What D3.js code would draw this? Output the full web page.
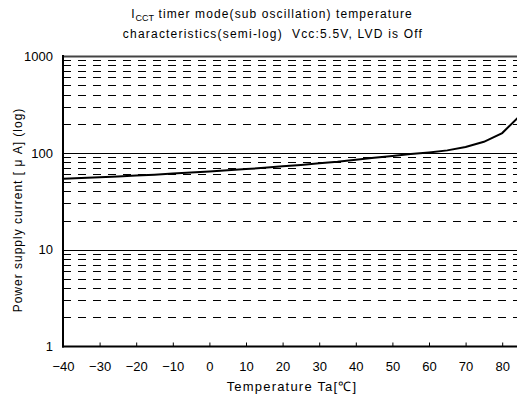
<!DOCTYPE html>
<html>
<head>
<meta charset="utf-8">
<script src="https://cdn.jsdelivr.net/npm/d3@7"></script>
<style>
  html, body { margin: 0; padding: 0; background: #fff; }
  svg { display: block; }
  text { font-family: "Liberation Sans", Arial, sans-serif; fill: #000; white-space: pre; }
</style>
</head>
<body>
<svg id="chart" width="517" height="403"></svg>
<script>
// ---- data ----
const temperatures = [-40, -35, -30, -25, -20, -15, -10, -5, 0, 5, 10, 15, 20, 25, 30, 35, 40, 45, 50, 55, 60, 65, 70, 75, 80, 84, 85];
const currents     = [54, 55, 56, 57, 58.5, 59.5, 61, 62.5, 64, 66, 68, 70, 72.5, 75, 78, 81, 85, 89, 93, 97, 101, 106, 115, 130, 160, 225, 240];
const xTicks = [-40, -30, -20, -10, 0, 10, 20, 30, 40, 50, 60, 70, 80];
const yTicks = [1, 10, 100, 1000];
const yMinor = [2, 3, 4, 5, 6, 7, 8, 9, 20, 30, 40, 50, 60, 70, 80, 90, 200, 300, 400, 500, 600, 700, 800, 900];
const yMajorGrid = [10, 100, 1000];
const titleLine1Main = "I";
const titleLine1Sub = "CCT";
const titleLine1Rest = " timer mode(sub oscillation) temperature";
const titleLine2 = "characteristics(semi-log)  Vcc:5.5V, LVD is Off";
const xTitle = "Temperature Ta[℃]";
const yTitle = "Power supply current [ μ A] (log)";

// ---- layout ----
const mLeft = 63, mTop = 56, mBottom = 346.5, mRight = 520.5;
const svg = d3.select("#chart");

const x = d3.scaleLinear().domain([-40, 85]).range([mLeft, mRight]);
const y = d3.scaleLog().domain([1, 1000]).range([mBottom, mTop]);

svg.append("defs").append("clipPath").attr("id", "plotclip")
  .append("rect").attr("x", mLeft).attr("y", mTop - 2).attr("width", mRight - mLeft).attr("height", mBottom - mTop + 4);

// minor dashed grid
svg.append("g").selectAll("line").data(yMinor).join("line")
  .attr("x1", mLeft).attr("x2", 517)
  .attr("y1", d => Math.round(y(d)) + 0.5).attr("y2", d => Math.round(y(d)) + 0.5)
  .attr("stroke", "#000").attr("stroke-width", 1)
  .attr("stroke-dasharray", "8,7");

// major solid grid
svg.append("g").selectAll("line").data(yMajorGrid).join("line")
  .attr("x1", mLeft).attr("x2", 517)
  .attr("y1", d => Math.round(y(d)) + 0.5).attr("y2", d => Math.round(y(d)) + 0.5)
  .attr("stroke", d => d === 1000 ? "#444" : "#000")
  .attr("stroke-width", d => d === 1000 ? 2 : 1);

// x axis (ticks pointing up)
const xAxis = d3.axisBottom(x).tickValues(xTicks).tickSize(-4).tickPadding(15).tickFormat(d => d < 0 ? "\u2212" + Math.abs(d) : d);
const gx = svg.append("g").attr("transform", `translate(0,${mBottom})`).call(xAxis);
gx.select(".domain").remove();
gx.selectAll(".tick line").attr("stroke", "#000").attr("stroke-width", 1);
gx.selectAll("text").attr("font-size", 13).attr("font-family", "Liberation Sans, Arial, sans-serif");
svg.append("line").attr("x1", mLeft - 1).attr("x2", 517).attr("y1", mBottom).attr("y2", mBottom)
  .attr("stroke", "#000").attr("stroke-width", 2);

// y axis
const yAxis = d3.axisLeft(y).tickValues(yTicks).tickSize(0).tickPadding(10).tickFormat(d3.format("d"));
const gy = svg.append("g").attr("transform", `translate(${mLeft},0)`).call(yAxis);
gy.select(".domain").remove();
gy.selectAll("text").attr("font-size", 13).attr("font-family", "Liberation Sans, Arial, sans-serif");
svg.append("line").attr("x1", mLeft).attr("x2", mLeft).attr("y1", mTop - 1).attr("y2", mBottom + 1)
  .attr("stroke", "#000").attr("stroke-width", 2);

// data line
const data = temperatures.map((t, i) => ({ t, v: currents[i] }));
svg.append("path").datum(data)
  .attr("clip-path", "url(#plotclip)")
  .attr("fill", "none").attr("stroke", "#000").attr("stroke-width", 2)
  .attr("d", d3.line().x(d => x(d.t)).y(d => y(d.v)));

// titles
const t1 = svg.append("text").attr("x", 272).attr("y", 18).attr("text-anchor", "middle").attr("font-size", 12).attr("letter-spacing", 1.1);
t1.append("tspan").text(titleLine1Main);
t1.append("tspan").attr("font-size", 9).attr("dy", 3).attr("letter-spacing", 0).text(titleLine1Sub);
t1.append("tspan").attr("dy", -3).text(titleLine1Rest);
svg.append("text").attr("x", 273).attr("y", 38).attr("text-anchor", "middle").attr("font-size", 12).attr("letter-spacing", 1.2).text(titleLine2);

svg.append("text").attr("x", 292).attr("y", 391).attr("text-anchor", "middle").attr("font-size", 13).attr("letter-spacing", 1.2).text(xTitle);
svg.append("text").attr("transform", "translate(22,210) rotate(-90)").attr("text-anchor", "middle").attr("font-size", 12).attr("letter-spacing", 1).text(yTitle);
</script>
</body>
</html>
